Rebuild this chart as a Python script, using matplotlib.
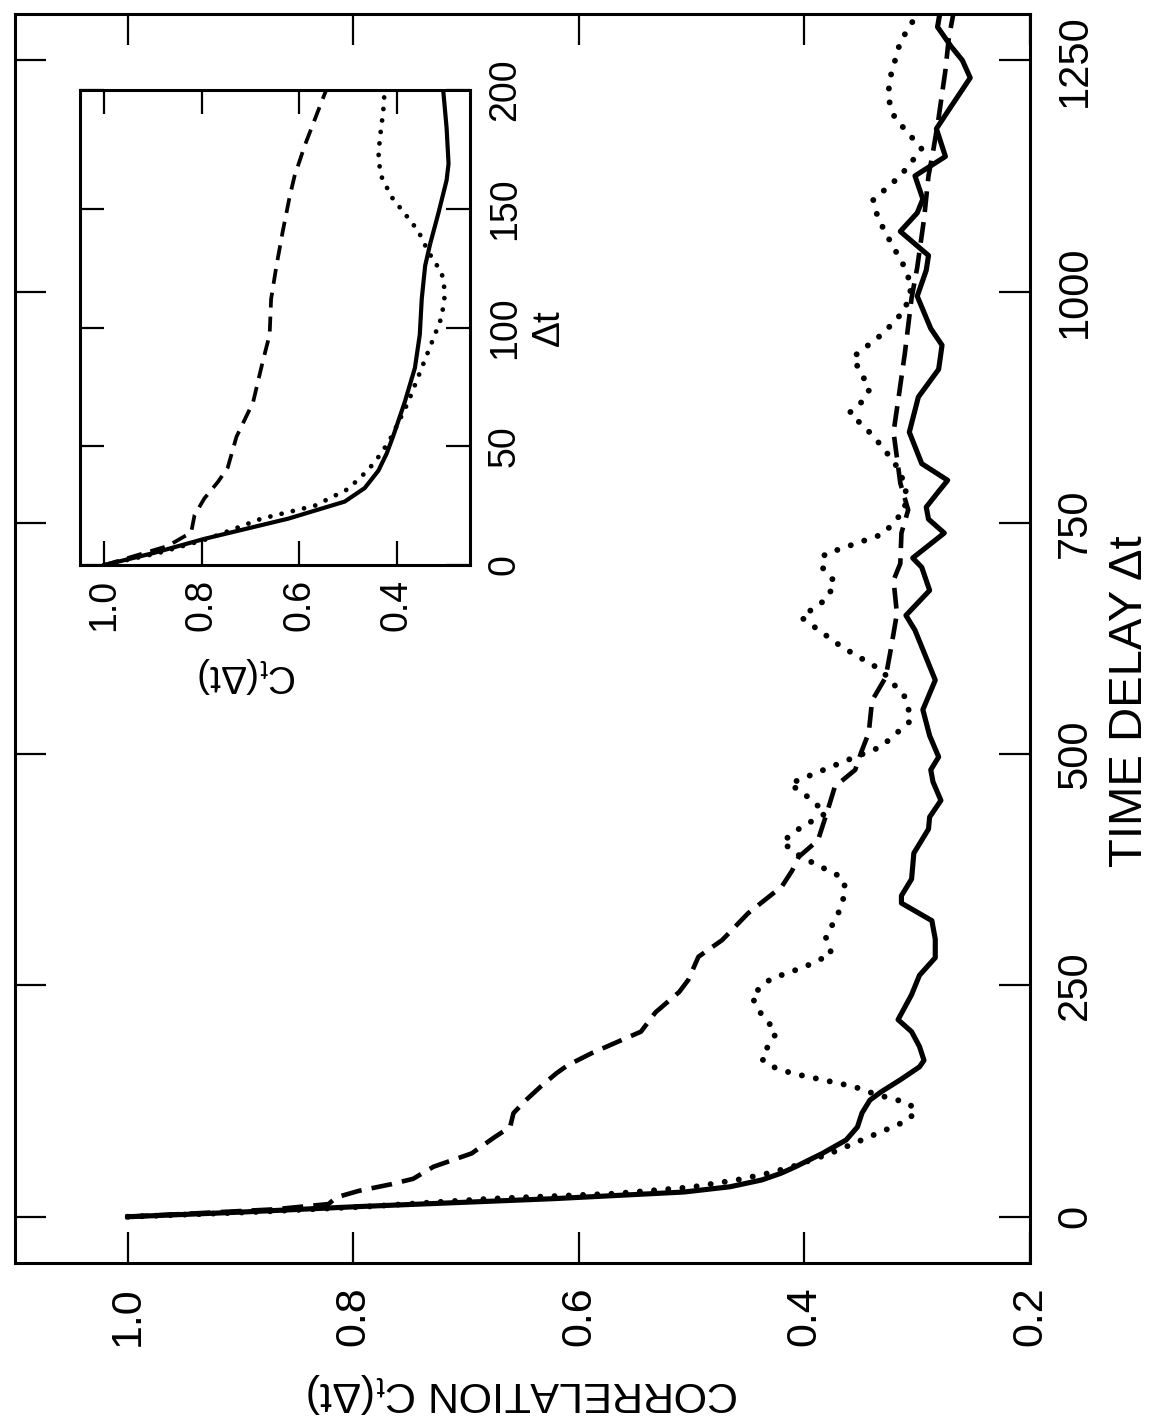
import matplotlib
matplotlib.use('Agg')
import matplotlib.pyplot as plt

plt.rcParams['font.family'] = ['Liberation Sans', 'DejaVu Sans']
plt.rcParams['mathtext.default'] = 'regular'

# time delay values and correlation values
SOLID_T = [0, 5, 11, 19.5, 26.7, 32.4, 39.7, 46.9, 54, 68.5,
           83, 97, 112, 126, 135, 148, 162, 169, 184, 200,
           213, 240, 261, 280, 300, 320, 339, 347, 365, 393,
           419, 432, 450, 470, 483, 497, 520, 548, 580, 607,
           634, 650, 677, 702, 712, 739, 754, 767, 784, 796,
           814, 848, 886, 916, 942, 960, 995, 1023, 1039, 1065,
           1085, 1100, 1125, 1146, 1176, 1200, 1231, 1250, 1265, 1286,
           1300]
SOLID_C = [1.0, 0.90, 0.795, 0.623, 0.507, 0.466, 0.438, 0.421, 0.408, 0.384,
           0.363, 0.353, 0.349, 0.342, 0.332, 0.315, 0.298, 0.294, 0.298, 0.305,
           0.317, 0.305, 0.298, 0.284, 0.284, 0.287, 0.314, 0.314, 0.305, 0.303,
           0.29, 0.289, 0.279, 0.286, 0.288, 0.281, 0.289, 0.295, 0.284, 0.293,
           0.302, 0.31, 0.289, 0.296, 0.304, 0.276, 0.29, 0.292, 0.281, 0.273,
           0.296, 0.307, 0.299, 0.281, 0.278, 0.288, 0.300, 0.292, 0.29, 0.315,
           0.30, 0.295, 0.302, 0.275, 0.283, 0.27, 0.253, 0.26, 0.27, 0.282,
           0.28]

DOT_T = [0, 5, 11, 19.5, 25, 32, 40, 47, 54, 68.5,
         83, 97, 104.5, 114.6, 123, 132, 140.6, 148, 155, 163.7,
         171, 179.5, 191, 200, 207, 222, 239, 257, 270, 284,
         302, 328, 353, 367, 389, 405, 421, 436, 452, 468,
         494, 508, 537, 562, 591, 616, 648, 668, 686, 703,
         716, 738, 764, 790, 815, 844, 869, 882, 895, 912,
         929, 955, 980, 1005, 1026, 1061, 1080, 1099, 1125, 1154,
         1167, 1188, 1210, 1231, 1270, 1300]
DOT_C = [1.0, 0.89, 0.788, 0.678, 0.568, 0.50, 0.459, 0.432, 0.411, 0.377,
         0.349, 0.322, 0.308, 0.301, 0.308, 0.336, 0.356, 0.384, 0.411, 0.432,
         0.438, 0.435, 0.428, 0.425, 0.43, 0.44, 0.447, 0.43, 0.40, 0.376,
         0.381, 0.37, 0.363, 0.367, 0.403, 0.42, 0.403, 0.381, 0.395, 0.413,
         0.361, 0.332, 0.305, 0.311, 0.332, 0.367, 0.403, 0.38, 0.373, 0.385,
         0.382, 0.33, 0.311, 0.31, 0.32, 0.339, 0.36, 0.348, 0.342, 0.35,
         0.357, 0.33, 0.311, 0.305, 0.311, 0.327, 0.335, 0.339, 0.315, 0.296,
         0.305, 0.32, 0.326, 0.324, 0.315, 0.30]

DASH_T = [0, 8, 13.7, 21, 28, 35, 41, 54, 68.5, 85.8,
          97, 112, 126, 140.6, 155, 163.7, 176.6, 191, 200, 221,
          243, 256, 281, 299, 328, 357, 374, 389, 407, 437,
          465, 483, 501, 523, 558, 583, 616, 652, 688, 706,
          739, 764, 793, 848, 890, 933, 993, 1026, 1078, 1125,
          1151, 1188, 1239, 1274, 1300]
DASH_C = [1.0, 0.87, 0.822, 0.815, 0.795, 0.767, 0.747, 0.729, 0.695, 0.675,
          0.661, 0.658, 0.647, 0.634, 0.62, 0.61, 0.589, 0.562, 0.545, 0.532,
          0.511, 0.503, 0.494, 0.473, 0.45, 0.42, 0.411, 0.405, 0.388, 0.38,
          0.373, 0.355, 0.35, 0.343, 0.34, 0.328, 0.323, 0.318, 0.321, 0.315,
          0.314, 0.308, 0.315, 0.321, 0.316, 0.311, 0.305, 0.30, 0.294, 0.29,
          0.286, 0.281, 0.275, 0.272, 0.268]

TIME_TICKS = [0, 250, 500, 750, 1000, 1250]
CORR_TICKS = [1.0, 0.8, 0.6, 0.4, 0.2]
CORR_LABELS = ['1.0', '0.8', '0.6', '0.4', '0.2']
INSET_TIME_TICKS = [0, 50, 100, 150, 200]
INSET_CORR_TICKS = [1.0, 0.8, 0.6, 0.4]
INSET_CORR_LABELS = ['1.0', '0.8', '0.6', '0.4']


def draw_curves(ax, lw, dash, dot):
    ax.plot(SOLID_C, SOLID_T, color='black', lw=lw, solid_joinstyle='round')
    ax.plot(DASH_C, DASH_T, color='black', lw=lw * 0.9, linestyle=(0, dash))
    ax.plot(DOT_C, DOT_T, color='black', lw=lw * 1.15, linestyle=(0, dot),
            dash_capstyle='round')


fig = plt.figure(figsize=(11.73, 14.2), dpi=100)

# the figure is drawn turned a quarter turn: correlation runs right to left,
# time runs bottom to top
ax = fig.add_axes([15 / 1173, 1 - 1263 / 1420, 1015 / 1173, 1249 / 1420])
draw_curves(ax, 3.7, (4.5, 2.2), (0.01, 2.4))
ax.set_xlim(1.1, 0.2)
ax.set_ylim(-50, 1300)
ax.set_xticks(CORR_TICKS)
ax.set_xticklabels(CORR_LABELS, rotation=90)
ax.set_yticks(TIME_TICKS)
ax.set_yticklabels([str(t) for t in TIME_TICKS], rotation=90, va='center')
ax.yaxis.tick_right()
ax.yaxis.set_label_position('right')
ax.tick_params(axis='both', direction='in', length=22, width=1.6,
               top=True, bottom=True, left=True, right=True)
ax.tick_params(axis='x', pad=17, labelsize=31)
ax.tick_params(axis='y', pad=18, labelsize=30)
ax.set_xlabel('CORRELATION C$_t$(Δt)', rotation=180, fontsize=31, va='center')
ax.xaxis.set_label_coords(0.5, -0.104)
ax.set_ylabel('TIME DELAY Δt', rotation=90, fontsize=34)
ax.yaxis.set_label_coords(1.077, 0.45)
for s in ax.spines.values():
    s.set_linewidth(2.2)

ins = fig.add_axes([80 / 1173, 1 - 565 / 1420, 390 / 1173, 475 / 1420])
draw_curves(ins, 3.0, (4.0, 2.4), (0.01, 2.4))
ins.set_xlim(1.05, 0.25)
ins.set_ylim(0, 200)
ins.set_xticks(INSET_CORR_TICKS)
ins.set_xticklabels(INSET_CORR_LABELS, rotation=90)
ins.set_yticks(INSET_TIME_TICKS)
ins.set_yticklabels([str(t) for t in INSET_TIME_TICKS], rotation=90, va='center')
ins.yaxis.tick_right()
ins.yaxis.set_label_position('right')
ins.tick_params(axis='both', direction='in', length=17, width=1.6,
                top=True, bottom=True, left=True, right=True, labelsize=27)
ins.tick_params(axis='x', pad=10)
ins.tick_params(axis='y', pad=12)
ins.set_xlabel('C$_t$(Δt)', rotation=180, fontsize=28)
ins.xaxis.set_label_coords(0.43, -0.19)
ins.set_ylabel('Δt', rotation=90, fontsize=28, labelpad=6)
for s in ins.spines.values():
    s.set_linewidth(2.2)

fig.savefig('out.png', dpi=100)
